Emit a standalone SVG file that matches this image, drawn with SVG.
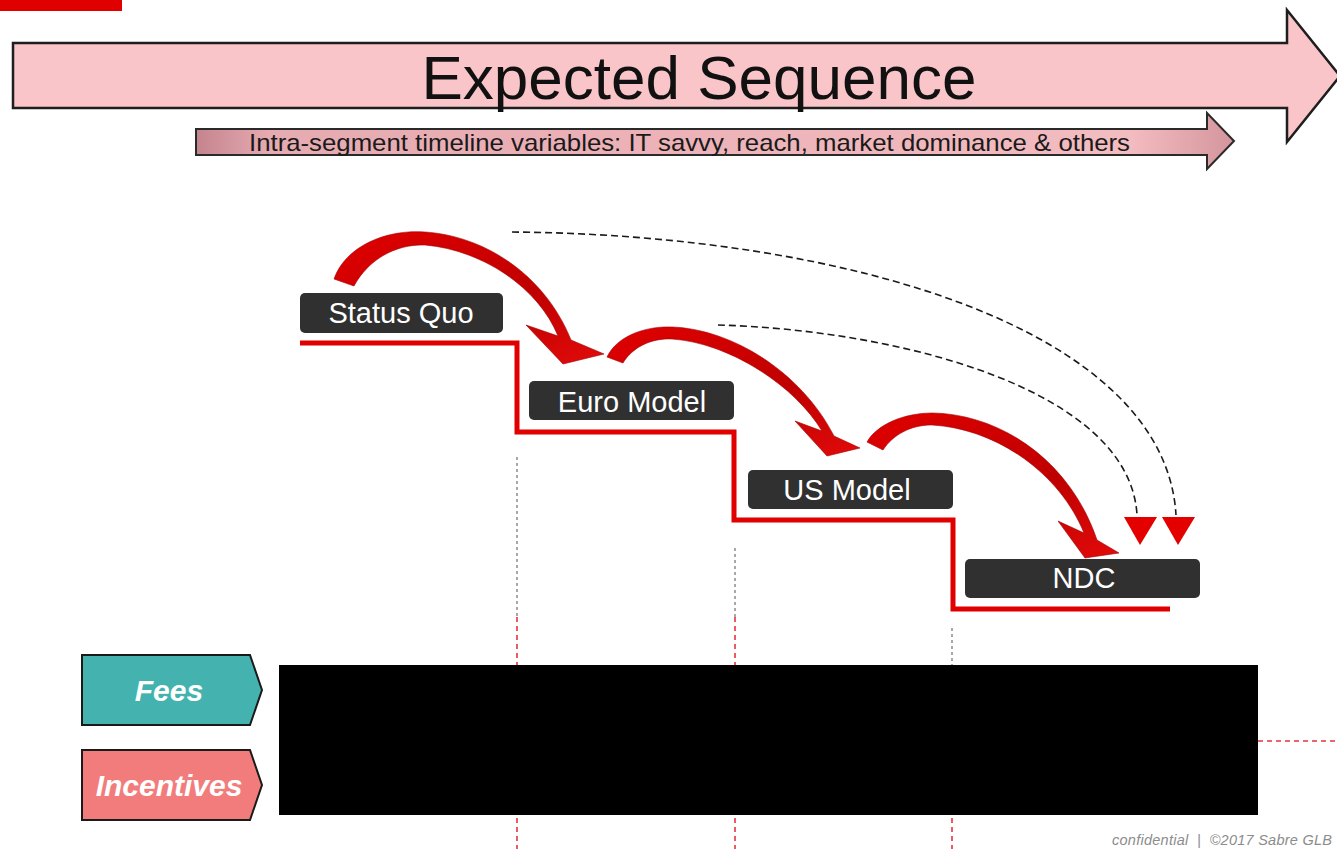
<svg xmlns="http://www.w3.org/2000/svg" width="1337" height="849" viewBox="0 0 1337 849">
  <defs>
    <linearGradient id="subGrad" x1="0" y1="0" x2="1" y2="0">
      <stop offset="0" stop-color="#c4848d"/>
      <stop offset="0.07" stop-color="#e6aab1"/>
      <stop offset="0.9" stop-color="#f3bcc0"/>
      <stop offset="1" stop-color="#d4959d"/>
    </linearGradient>
    <linearGradient id="curveGrad" x1="0" y1="0" x2="1" y2="1">
      <stop offset="0" stop-color="#e00000"/>
      <stop offset="0.6" stop-color="#bf0000"/>
      <stop offset="1" stop-color="#e30b0b"/>
    </linearGradient>
  </defs>
  <style>
    .stage rect { fill: #303030; }
    .stage text { fill: #ffffff; font-family: "Liberation Sans", Arial, sans-serif; font-size: 29px; text-anchor: middle; }
    .curve { fill: url(#curveGrad); stroke: #a00000; stroke-width: 0.6; }
    .dash { fill: none; stroke: #1a1a1a; stroke-width: 1.6; stroke-dasharray: 7 4; }
    .head { fill: #e50000; }
    .guide-gray { stroke: #7a7a7a; stroke-width: 1.3; stroke-dasharray: 3 3; fill: none; }
    .guide-red { stroke: #e8333d; stroke-width: 1.6; stroke-dasharray: 5 4; fill: none; }
    .tag { stroke: #1a1a1a; stroke-width: 2; }
    .tag-text { fill: #ffffff; font-family: "Liberation Sans", Arial, sans-serif; font-size: 30px; font-weight: bold; font-style: italic; text-anchor: middle; }
  </style>

  <rect width="1337" height="849" fill="#ffffff"/>

  <!-- corner marker -->
  <rect x="0" y="0" width="122" height="11" fill="#e10000"/>

  <!-- header arrows -->
  <g id="expected-sequence">
    <path d="M13,43 H1287 V10 L1340,76 L1287,142 V108 H13 Z" fill="#f9c5c8" stroke="#1e1e1e" stroke-width="2.5" stroke-linejoin="miter"/>
    <text x="699" y="99" font-family="Liberation Sans, Arial, sans-serif" font-size="62" fill="#111111" text-anchor="middle">Expected Sequence</text>
  </g>
  <g id="timeline-variables">
    <path d="M196,129 H1207 V113 L1234,141 L1207,169 V155 H196 Z" fill="url(#subGrad)" stroke="#2a2a2a" stroke-width="2"/>
    <text x="249" y="151" font-family="Liberation Sans, Arial, sans-serif" font-size="24" fill="#1a1a1a" textLength="881" lengthAdjust="spacingAndGlyphs">Intra-segment timeline variables: IT savvy, reach, market dominance &amp; others</text>
  </g>

  <!-- vertical guide lines -->
  <g id="guides">
    <line class="guide-gray" x1="517" y1="457" x2="517" y2="617"/>
    <line class="guide-red" x1="517" y1="617" x2="517" y2="665"/>
    <line class="guide-red" x1="517" y1="818" x2="517" y2="849"/>
    <line class="guide-gray" x1="735" y1="548" x2="735" y2="617"/>
    <line class="guide-red" x1="735" y1="617" x2="735" y2="665"/>
    <line class="guide-red" x1="735" y1="818" x2="735" y2="849"/>
    <line class="guide-gray" x1="952" y1="628" x2="952" y2="665"/>
    <line class="guide-red" x1="952" y1="818" x2="952" y2="849"/>
    <line class="guide-red" x1="1258" y1="741" x2="1337" y2="741"/>
  </g>

  <!-- stair line under the stages -->
  <g id="stair">
    <path d="M300,343 H517 V432 H734 V520 H953 V609 H1170" fill="none" stroke="#e00000" stroke-width="5"/>
  </g>

  <!-- stages -->
  <g id="status-quo" class="stage">
    <rect x="300" y="293" width="203" height="40" rx="5"/>
    <text x="401" y="323">Status Quo</text>
  </g>
  <g id="euro-model" class="stage">
    <rect x="529" y="381" width="205" height="39" rx="5"/>
    <text x="632" y="412">Euro Model</text>
  </g>
  <g id="us-model" class="stage">
    <rect x="748" y="470" width="205" height="39" rx="5"/>
    <text x="847" y="500">US Model</text>
  </g>
  <g id="ndc" class="stage">
    <rect x="965" y="559" width="235" height="39" rx="5"/>
    <text x="1084" y="588">NDC</text>
  </g>

  <!-- transitions -->
  <g id="connectors">
    <path class="curve" d="M334,279 C345,247 385,229 425,232 C485,236 545,275 571,340 L604,354 L563,364 L526,325 L558,336 C538,287 482,250 425,245 C395,244 368,260 354,286 Z"/>
    <path class="curve" d="M607,357 C617,336 645,326 672,327 C730,329 800,370 834,436 L860,448 L827,456 L795,421 L822,431 C795,386 730,343 672,339 C650,338 632,348 623,363 Z"/>
    <path class="curve" d="M867,442 C877,424 905,413 932,413 C1000,414 1070,460 1097,540 L1119,553 L1085,558 L1058,521 L1084,533 C1060,474 998,429 932,425 C910,425 893,435 883,450 Z"/>
    <path class="dash" d="M512,232 C850,235 1165,330 1176,515"/>
    <path class="dash" d="M718,325 C900,330 1130,390 1137,515"/>
    <polygon class="head" points="1124,517 1157,517 1140,545"/>
    <polygon class="head" points="1162,517 1195,517 1178,545"/>
  </g>

  <!-- redacted block -->
  <rect x="279" y="665" width="979" height="150" fill="#000000"/>

  <!-- row tags -->
  <g id="fees">
    <polygon class="tag" points="82,655 250,655 262,690 250,725 82,725" fill="#44b2ae"/>
    <text class="tag-text" x="169" y="701">Fees</text>
  </g>
  <g id="incentives">
    <polygon class="tag" points="82,750 250,750 262,785 250,820 82,820" fill="#f27c7c"/>
    <text class="tag-text" x="169" y="796">Incentives</text>
  </g>

  <!-- footer -->
  <text x="1112" y="845" font-family="Liberation Sans, Arial, sans-serif" font-size="14.5" font-style="italic" fill="#8c8c8c" xml:space="preserve" textLength="220">confidential  |  ©2017 Sabre GLB</text>
</svg>
